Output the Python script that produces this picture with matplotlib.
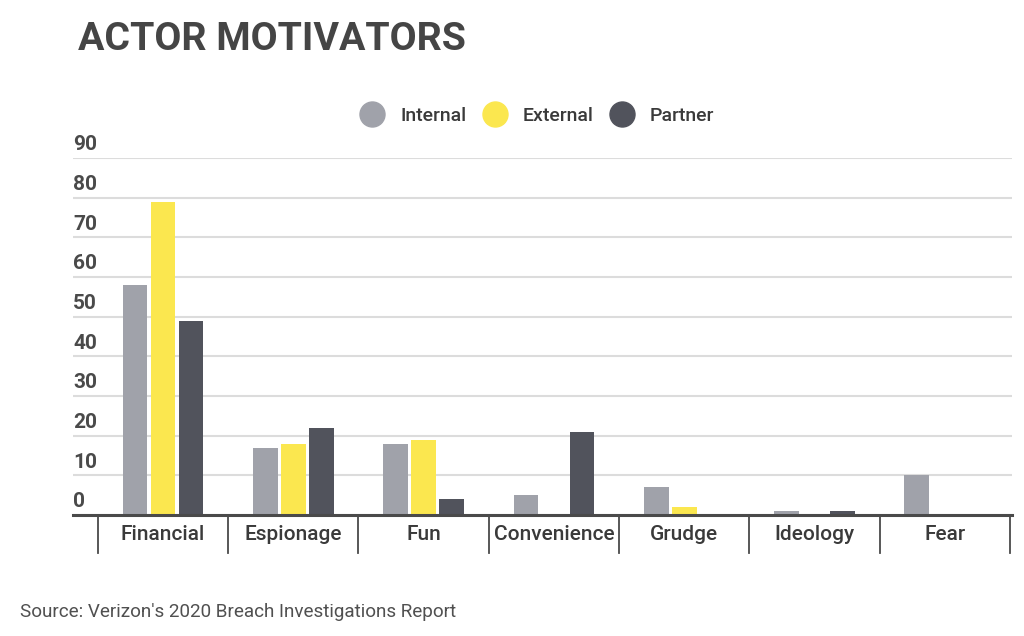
import numpy as np
import matplotlib
matplotlib.use("Agg")
import matplotlib.pyplot as plt
from matplotlib.lines import Line2D
import matplotlib.transforms as mtransforms

plt.rcParams["font.family"] = ["Roboto", "DejaVu Sans"]

# Datos
categories = ["Financial", "Espionage", "Fun", "Convenience", "Grudge", "Ideology", "Fear"]
internal = [58, 17, 18, 5, 7, 1, 10]
external = [79, 18, 19, 0, 2, 0, 0]
partner = [49, 22, 4, 21, 0, 1, 0]
series_names = ["Internal", "External", "Partner"]
colors = ["#a0a2aa", "#fbe74f", "#51535c"]
y_ticks = [0, 10, 20, 30, 40, 50, 60, 70, 80, 90]

fig = plt.figure(figsize=(10.24, 6.36), dpi=100)
ax = fig.add_axes([73 / 1024, 1 - 515 / 636, (1012 - 73) / 1024, (515 - 158) / 636])

x = np.arange(len(categories))
width = 0.19
offset = 0.215
for i, (vals, c) in enumerate(zip([internal, external, partner], colors)):
    ax.bar(x + (i - 1) * offset, vals, width=width, color=c, zorder=3)

ax.set_xlim(-0.69, 6.515)
ax.set_ylim(0, 90)

# cuadricula horizontal
ax.set_yticks(y_ticks)
ax.yaxis.grid(True, color="#dcdcdc", linewidth=1.5, zorder=0)
ax.tick_params(axis="y", length=0, labelleft=False)
for s in ["top", "right", "left"]:
    ax.spines[s].set_visible(False)
ax.spines["bottom"].set_color("#4a4a4a")
ax.spines["bottom"].set_linewidth(2.2)
ax.spines["bottom"].set_zorder(4)

# etiquetas del eje y encima de cada linea
trans = mtransforms.blended_transform_factory(ax.transAxes, ax.transData)
for v in y_ticks:
    ax.annotate(str(v), xy=(0, v), xycoords=trans, xytext=(0, 9.5), textcoords="offset points",
                ha="left", va="center", fontsize=15, fontweight="bold", color="#4a4a4a")

# separadores entre categorias
sep_trans = mtransforms.blended_transform_factory(ax.transData, ax.transAxes)
for sx in np.arange(len(categories) + 1) - 0.5:
    ax.plot([sx, sx], [0, -38 / 357], transform=sep_trans, color="#4a4a4a",
            linewidth=1.3, clip_on=False)

ax.set_xticks(x)
ax.set_xticklabels(categories, fontsize=15, fontweight="medium", color="#3a3a3a")
ax.tick_params(axis="x", length=0, pad=7.5)

# leyenda
handles = [Line2D([], [], marker="o", linestyle="", markersize=18, color=c) for c in colors]
fig.legend(handles, series_names, loc="center", bbox_to_anchor=(0.521, 1 - 116 / 636),
           ncol=3, frameon=False, handletextpad=0.45, columnspacing=0.45,
           prop={"size": 14, "weight": "medium"}, labelcolor="#3a3a3a")

fig.text(78 / 1024, 1 - 40 / 636, "ACTOR MOTIVATORS", fontsize=28.3, fontweight="bold",
         color="#454545", ha="left", va="center")
fig.text(20 / 1024, 1 - 612 / 636, "Source: Verizon's 2020 Breach Investigations Report",
         fontsize=13.6, color="#505050", ha="left", va="center")

fig.savefig("out.png", dpi=100, facecolor="white")
